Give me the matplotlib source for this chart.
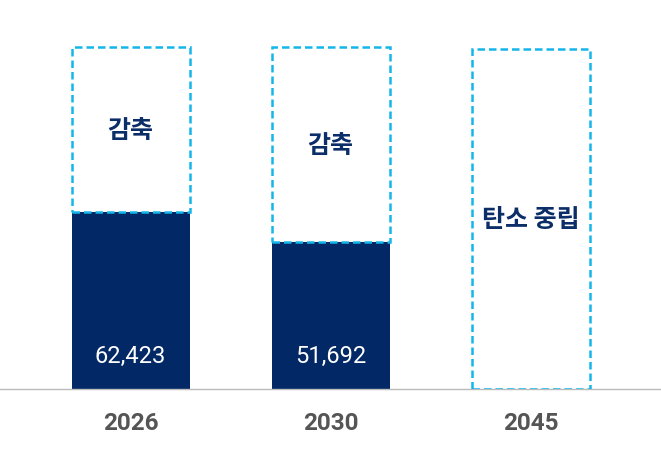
import matplotlib.pyplot as plt

# données
years = ["2026", "2030", "2045"]
emissions = [62423, 51692, 0]
box_tops = [120600, 120600, 119900]
value_labels = ["62,423", "51,692", ""]
box_labels = ["감축", "감축", "탄소 중립"]

navy = "#022865"
cyan = "#14b6ea"
text_navy = "#0b2d68"

plt.rcParams['font.family'] = ['Roboto', 'Noto Sans CJK KR', 'DejaVu Sans']

fig = plt.figure(figsize=(6.61, 4.6), dpi=100)
ax = fig.add_axes([0, 70 / 460, 1, 390 / 460])

x = range(len(years))
width = 0.59

# barres pleines
ax.bar(x, emissions, width=width, color=navy, linewidth=0, zorder=2)

# boîtes en pointillés
heights = [t - e for t, e in zip(box_tops, emissions)]
ax.bar(x, heights, bottom=emissions, width=width, fill=False,
       edgecolor=cyan, linestyle=(0, (3, 1.6)), linewidth=1.8, zorder=3)

for i in x:
    if value_labels[i]:
        ax.annotate(value_labels[i], (i, 0), xytext=(0, 24.5), textcoords="offset points",
                    ha="center", va="center", color="white", fontsize=17, zorder=4)
    mid = (emissions[i] + box_tops[i]) / 2
    ax.text(i, mid, box_labels[i], ha="center", va="center", color=text_navy,
            fontsize=18, fontweight="bold",
            family=['Noto Sans CJK KR', 'DejaVu Sans'], zorder=4)

ax.set_xlim(-0.6525, 2.6525)
ax.set_ylim(0, 137540)
ax.set_xticks(list(x))
ax.set_xticklabels(years, fontsize=17.5, fontweight="bold", color="#555555")
ax.tick_params(axis="x", length=0, pad=16)
ax.set_yticks([])
for s in ["top", "left", "right"]:
    ax.spines[s].set_visible(False)
ax.spines["bottom"].set_color("#bbbbbb")
ax.spines["bottom"].set_linewidth(1)

plt.savefig("out.png", dpi=100)
